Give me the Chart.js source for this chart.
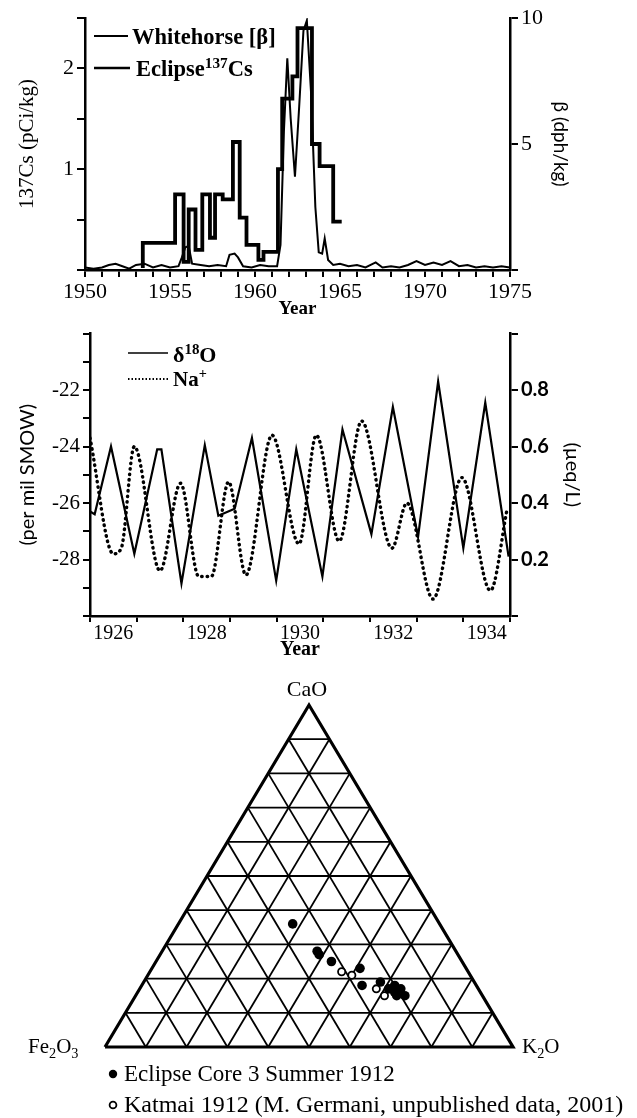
<!DOCTYPE html>
<html><head><meta charset="utf-8">
<script src="https://cdn.jsdelivr.net/npm/chart.js@4.4.1/dist/chart.umd.min.js"></script>
<style>
html,body{margin:0;padding:0;background:#fff;width:637px;height:1118px;overflow:hidden}
canvas{position:absolute;left:0}
#c1{top:0}#c2{top:320px}#c3{top:665px}
</style></head><body>
<canvas id="c1" width="637" height="320"></canvas>
<canvas id="c2" width="637" height="345"></canvas>
<canvas id="c3" width="637" height="453"></canvas>
<script>
// ---------- Panel 1: fallout (Whitehorse beta, Eclipse 137Cs) ----------
const betaYears = [1950.0,1950.5,1951.0,1951.4,1951.8,1952.2,1952.6,1953.0,1953.5,1954.0,1954.5,1955.0,1955.5,1955.7,1955.9,1956.1,1956.3,1956.8,1957.3,1957.8,1958.3,1958.5,1958.8,1959.0,1959.3,1959.8,1960.3,1960.8,1961.3,1961.5,1961.7,1961.9,1962.1,1962.35,1962.6,1962.85,1963.05,1963.3,1963.55,1963.75,1963.95,1964.1,1964.3,1964.6,1965.0,1965.5,1966.0,1966.5,1967.1,1967.5,1968.0,1968.5,1969.0,1969.5,1970.0,1970.5,1971.0,1971.5,1972.0,1972.5,1973.0,1973.5,1974.0,1974.5,1975.0];
const betaValues = [0.1,0.05,0.1,0.2,0.25,0.15,0.05,0.2,0.25,0.1,0.2,0.1,0.15,0.5,0.9,0.95,0.25,0.2,0.15,0.2,0.15,0.6,0.65,0.5,0.15,0.1,0.2,0.15,0.15,1.0,5.5,8.4,6.0,3.7,6.5,9.5,9.9,7.0,2.5,0.7,0.65,1.25,0.4,0.2,0.25,0.15,0.2,0.1,0.3,0.1,0.15,0.1,0.2,0.35,0.2,0.3,0.2,0.35,0.15,0.2,0.1,0.15,0.1,0.15,0.1];
const csYears = [1953.4,1953.4,1955.3,1955.8,1956.1,1956.5,1956.9,1957.35,1957.65,1958.1,1958.7,1959.1,1959.5,1960.2,1960.5,1961.35,1961.6,1962.2,1962.5,1963.35,1963.8,1964.6,1965.1];
const csValues = [0.02,0.27,0.75,0.08,0.6,0.2,0.75,0.32,0.75,0.7,1.27,0.52,0.25,0.1,0.18,1.0,1.7,1.92,2.4,1.25,1.03,0.48,0.48];
const p1XLabels = [1950,1955,1960,1965,1970,1975];
const p1LeftLabels = [1,2];
const p1RightLabels = [5,10];

// ---------- Panel 2: d18O and Na+ ----------
const d18oYears = [1926.0,1926.1,1926.45,1926.95,1927.44,1927.53,1927.96,1928.46,1928.75,1929.1,1929.47,1929.99,1930.42,1930.98,1931.41,1932.03,1932.49,1933.03,1933.46,1934.0,1934.47,1934.97];
const d18oValues = [-26.3,-26.4,-24.0,-27.8,-24.1,-24.1,-28.85,-23.95,-26.45,-26.2,-23.7,-28.75,-24.1,-28.6,-23.4,-27.1,-22.6,-27.2,-21.7,-27.6,-22.45,-27.9];
const naYears = [1926.0,1926.5,1926.67,1926.95,1927.5,1927.94,1928.33,1928.6,1928.97,1929.34,1929.9,1930.48,1930.85,1931.34,1931.82,1932.47,1932.79,1933.35,1933.97,1934.58,1934.94];
const naValues = [0.63,0.22,0.24,0.60,0.16,0.47,0.14,0.14,0.475,0.145,0.64,0.255,0.64,0.265,0.69,0.24,0.40,0.06,0.49,0.09,0.38];
const p2YearLabels = [1926,1928,1930,1932,1934];
const p2LeftLabels = [-22,-24,-26,-28];
const p2RightLabels = [0.2,0.4,0.6,0.8];

// ---------- Panel 3: ternary CaO / K2O / Fe2O3 (%) ----------
const eclipseCaO   = [36,28,27,25,23,18,19,17,16,17,15,15,18];
const eclipseK2O   = [28,38,39,43,51,54,58,61,63,64,66,64,62];
const eclipseFe2O3 = eclipseCaO.map((c,i)=>100-c-eclipseK2O[i]);
const katmaiCaO    = [22,21,17,15];
const katmaiK2O    = [47,50,58,61];
const katmaiFe2O3  = katmaiCaO.map((c,i)=>100-c-katmaiK2O[i]);
const ternaryGrid  = [0.1,0.2,0.3,0.4,0.5,0.6,0.7,0.8,0.9];

const SERIF = "'Liberation Serif','DejaVu Serif','Times New Roman',serif";
const SANS = "'Lato','Open Sans','DejaVu Sans',sans-serif";

function drawSegs(ctx, t){
  const sz = t.size, wt = t.weight || 'normal', fam = t.family || SERIF;
  const parts = t.segs.map(s=>{
    const size = (s.sup||s.sub) ? sz*0.68 : sz;
    const font = wt+' '+size+'px '+fam;
    ctx.font = font;
    return {s, font, w: ctx.measureText(s.t).width, dy: s.sup ? -sz*0.36 : (s.sub ? sz*0.22 : 0)};
  });
  const total = parts.reduce((a,p)=>a+p.w,0);
  let x = t.align==='center' ? t.x-total/2 : (t.align==='right' ? t.x-total : t.x);
  ctx.fillStyle='#000'; ctx.textAlign='left'; ctx.textBaseline='alphabetic';
  parts.forEach(p=>{ctx.font=p.font; ctx.fillText(p.s.t, x, t.y+p.dy); x+=p.w;});
}
const annot = {
  id:'annot',
  afterDraw(chart, args, opts){
    const ctx = chart.ctx; ctx.save();
    (opts.lines||[]).forEach(l=>{
      ctx.beginPath(); ctx.strokeStyle='#000'; ctx.lineWidth=l.width; ctx.setLineDash(l.dash||[]);
      ctx.lineCap=l.cap||'butt'; ctx.moveTo(l.x1,l.y1); ctx.lineTo(l.x2,l.y2); ctx.stroke();
    });
    ctx.setLineDash([]);
    (opts.markers||[]).forEach(m=>{
      ctx.beginPath(); ctx.arc(m.x,m.y,m.r,0,Math.PI*2); ctx.fillStyle=m.fill; ctx.fill();
      if(m.stroke){ctx.lineWidth=m.lw; ctx.strokeStyle=m.stroke; ctx.stroke();}
    });
    (opts.texts||[]).forEach(t=>drawSegs(ctx,t));
    ctx.restore();
  }
};
const pts = (xs,ys)=>xs.map((x,i)=>({x, y:ys[i]}));
const base = {responsive:false, animation:false, events:[]};
const axisGrid = {drawOnChartArea:false, color:'#000', lineWidth:2, tickLength:8};
const axisBorder = {display:true, color:'#000', width:2.5};

// ---------- Chart 1 ----------
new Chart(document.getElementById('c1'), {
  type:'line',
  data:{datasets:[
    {label:'Whitehorse [β]', data:pts(betaYears,betaValues), yAxisID:'y1', borderColor:'#000', borderWidth:2, pointRadius:0, tension:0},
    {label:'Eclipse 137Cs', data:pts(csYears,csValues), yAxisID:'y', borderColor:'#000', borderWidth:3.8, pointRadius:0, stepped:true}
  ]},
  options:Object.assign({}, base, {
    layout:{padding:{top:18,left:0,right:0,bottom:0}},
    plugins:{legend:{display:false}, tooltip:{enabled:false},
      annot:{
        lines:[{x1:94,y1:36,x2:128,y2:36,width:2},{x1:94,y1:68,x2:130,y2:68,width:2.5}],
        texts:[
          {x:132,y:44,size:22.5,weight:'bold',segs:[{t:'Whitehorse [β]'}]},
          {x:136,y:76,size:22.5,weight:'bold',segs:[{t:'Eclipse'},{t:'137',sup:true},{t:'Cs'}]}
        ]}},
    scales:{
      x:{type:'linear', position:'bottom', min:1950, max:1975, afterFit(s){s.height=50;},
        ticks:{stepSize:1, autoSkip:false, maxRotation:0, color:'#000', padding:2, font:{family:SERIF,size:22,lineHeight:1.2},
          callback:v=>p1XLabels.includes(v)?String(v):''},
        grid:Object.assign({},axisGrid,{tickLength:7}), border:axisBorder,
        title:{display:true, text:'Year', color:'#000', font:{family:SERIF,size:19,weight:'bold',lineHeight:1}, padding:{top:0,bottom:1}}},
      y:{position:'left', min:0, max:2.5, afterFit(s){s.width=85;},
        ticks:{stepSize:0.5, color:'#000', padding:3, font:{family:SERIF,size:22,lineHeight:1}, callback:v=>p1LeftLabels.includes(v)?String(v):''},
        grid:axisGrid, border:axisBorder,
        title:{display:true, text:'137Cs (pCi/kg)', color:'#000', font:{family:SERIF,size:21,lineHeight:1.2}, padding:{top:15,bottom:0}}},
      y1:{position:'right', min:0, max:10, afterFit(s){s.width=127;},
        ticks:{stepSize:5, color:'#000', padding:3, font:{family:SERIF,size:22,lineHeight:1}, callback:v=>p1RightLabels.includes(v)?String(v):''},
        grid:axisGrid, border:axisBorder,
        title:{display:true, text:'β (dph/kg)', color:'#000', font:{family:SANS,size:19,lineHeight:1.2}, padding:{top:65,bottom:0}, align:'center'}}
    }
  }),
  plugins:[annot]
});

// ---------- Chart 2 ----------
new Chart(document.getElementById('c2'), {
  type:'line',
  data:{datasets:[
    {label:'δ18O', data:pts(d18oYears,d18oValues), yAxisID:'y', borderColor:'#000', borderWidth:2.2, pointRadius:0, tension:0},
    {label:'Na+', data:pts(naYears,naValues), yAxisID:'y1', borderColor:'#000', borderWidth:3.4, pointRadius:0, cubicInterpolationMode:'monotone', borderDash:[0.5,5], borderCapStyle:'round'}
  ]},
  options:Object.assign({}, base, {
    layout:{padding:{top:10,left:0,right:0,bottom:0}},
    plugins:{legend:{display:false}, tooltip:{enabled:false},
      annot:{
        lines:[{x1:128,y1:33,x2:168,y2:33,width:1.5},{x1:128,y1:59,x2:168,y2:59,width:1.8,dash:[1.5,2]}],
        texts:[
          {x:173,y:42,size:22,weight:'bold',segs:[{t:'δ'},{t:'18',sup:true},{t:'O'}]},
          {x:173,y:66,size:21,weight:'bold',segs:[{t:'Na'},{t:'+',sup:true}]}
        ]}},
    scales:{
      x:{type:'linear', position:'bottom', min:1926, max:1935, afterFit(s){s.height=49;},
        ticks:{stepSize:0.5, autoSkip:false, maxRotation:0, color:'#000', padding:0, font:{family:SERIF,size:20,lineHeight:1.2},
          callback:v=>(v%1===0.5 && p2YearLabels.includes(Math.floor(v)))?String(Math.floor(v)):''},
        grid:{drawOnChartArea:false, lineWidth:2, tickLength:6, color:c=>(c.tick && Number.isInteger(c.tick.value))?'#000':'rgba(0,0,0,0)'},
        border:axisBorder,
        title:{display:true, text:'Year', color:'#000', font:{family:SERIF,size:20,weight:'bold',lineHeight:1}, padding:{top:0,bottom:5}}},
      y:{position:'left', min:-30, max:-20, afterFit(s){s.width=90;},
        ticks:{stepSize:1, color:'#000', padding:3, font:{family:SERIF,size:21,lineHeight:1}, callback:v=>p2LeftLabels.includes(v)?String(v):''},
        grid:Object.assign({},axisGrid,{tickLength:7}), border:axisBorder,
        title:{display:true, text:'(per mil SMOW)', color:'#000', font:{family:SANS,size:20,lineHeight:1.2}, padding:{top:16,bottom:0}}},
      y1:{position:'right', min:0, max:1, afterFit(s){s.width=127;},
        ticks:{stepSize:0.2, color:'#000', padding:3, font:{family:SANS,size:20,weight:'bold',lineHeight:1},
          callback:v=>p2RightLabels.some(r=>Math.abs(r-v)<1e-6)?v.toFixed(1):''},
        grid:axisGrid, border:axisBorder,
        title:{display:true, text:'(µeq/L)', color:'#000', font:{family:SANS,size:20,lineHeight:1.2}, padding:{top:53,bottom:0}}}
    }
  }),
  plugins:[annot]
});

// ---------- Chart 3: ternary ----------
const tern = (c,k)=>({x:k+c/2, y:c});
const gridSets = [];
gridSets.push({data:[tern(0,0),tern(0,1),tern(1,0),tern(0,0)], borderWidth:3.2});
ternaryGrid.forEach(f=>{
  gridSets.push({data:[tern(f,0),tern(f,1-f)], borderWidth:1.8});
  gridSets.push({data:[tern(0,f),tern(1-f,f)], borderWidth:1.8});
  gridSets.push({data:[tern(0,1-f),tern(1-f,0)], borderWidth:1.8});
});
const gridDatasets = gridSets.map(g=>Object.assign({type:'scatter', showLine:true, pointRadius:0, borderColor:'#000', clip:false, order:10, borderJoinStyle:'miter'}, g));
const toPts = (cao,k2o)=>cao.map((c,i)=>tern(c/100, k2o[i]/100));
new Chart(document.getElementById('c3'), {
  type:'scatter',
  data:{datasets:[
    {label:'Katmai 1912 (M. Germani, unpublished data, 2001)', data:toPts(katmaiCaO,katmaiK2O), pointRadius:3.6, pointBackgroundColor:'#fff', pointBorderColor:'#000', pointBorderWidth:1.8, clip:false, order:0},
    {label:'Eclipse Core 3 Summer 1912', data:toPts(eclipseCaO,eclipseK2O), pointRadius:4.8, pointBackgroundColor:'#000', pointBorderColor:'#000', pointBorderWidth:0, clip:false, order:1}
  ].concat(gridDatasets)},
  options:Object.assign({}, base, {
    layout:{padding:{top:40,left:105,right:124,bottom:71}},
    plugins:{legend:{display:false}, tooltip:{enabled:false},
      annot:{
        markers:[{x:113,y:409,r:4.2,fill:'#000'},{x:113,y:440,r:3.4,fill:'#fff',stroke:'#000',lw:1.8}],
        texts:[
          {x:307,y:31,size:22,align:'center',segs:[{t:'CaO'}]},
          {x:28,y:388,size:21,segs:[{t:'Fe'},{t:'2',sub:true},{t:'O'},{t:'3',sub:true}]},
          {x:522,y:388,size:21,segs:[{t:'K'},{t:'2',sub:true},{t:'O'}]},
          {x:124,y:416,size:23,segs:[{t:'Eclipse Core 3 Summer 1912'}]},
          {x:124,y:447,size:24,segs:[{t:'Katmai 1912 (M. Germani, unpublished data, 2001)'}]}
        ]}},
    scales:{x:{type:'linear',min:0,max:1,display:false}, y:{type:'linear',min:0,max:1,display:false}}
  }),
  plugins:[annot]
});
</script>
</body></html>
